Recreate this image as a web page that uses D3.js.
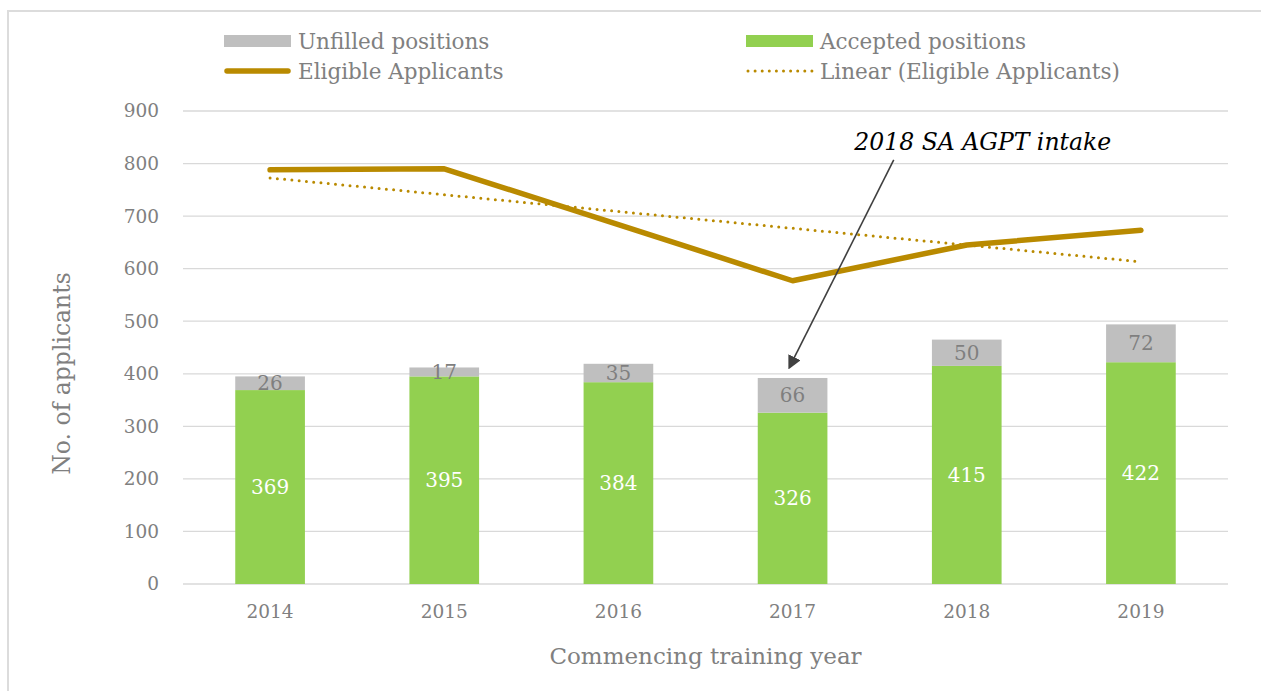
<!DOCTYPE html>
<html>
<head>
<meta charset="utf-8">
<script src="https://cdn.jsdelivr.net/npm/d3@7"></script>
<style>
  html, body { margin: 0; padding: 0; background: #fff; }
  svg text { font-family: "DejaVu Serif", "Liberation Serif", serif; }
</style>
</head>
<body>
<svg id="chart" width="1261" height="691"></svg>
<script>
const years = ["2014", "2015", "2016", "2017", "2018", "2019"];
const accepted = [369, 395, 384, 326, 415, 422];
const unfilled = [26, 17, 35, 66, 50, 72];
const eligible = [788, 790, 684, 577, 645, 673];
const yTicks = [0, 100, 200, 300, 400, 500, 600, 700, 800, 900];
const legendLabels = ["Unfilled positions", "Accepted positions", "Eligible Applicants", "Linear (Eligible Applicants)"];
const annotationText = "2018 SA AGPT intake";

const colGreen = "#92D050", colGray = "#BFBFBF", colGold = "#B98A00";
const textGray = "#808080", gridCol = "#D9D9D9";
const FONT = '"DejaVu Serif", serif';

const svg = d3.select("#chart");
const W = 1261, H = 691;
const m = { left: 183, right: 33, top: 111, bottom: 107 };

// outer frame
svg.append("path").attr("d", `M8,${H} V11 H${W}`).attr("fill", "none")
  .attr("stroke", "#DCDCDC").attr("stroke-width", 2);

const x = d3.scaleBand().domain(years).range([m.left, W - m.right]).paddingInner(0.6).paddingOuter(0.3);
const y = d3.scaleLinear().domain([0, 900]).range([H - m.bottom, m.top]);

// gridlines
svg.append("g").selectAll("line").data(yTicks).join("line")
  .attr("x1", m.left).attr("x2", W - m.right)
  .attr("y1", d => y(d)).attr("y2", d => y(d))
  .attr("stroke", gridCol).attr("stroke-width", 1.3);

// y axis labels
const yAxis = svg.append("g").attr("transform", `translate(${m.left},0)`)
  .call(d3.axisLeft(y).tickValues(yTicks).tickSize(0).tickPadding(24));
yAxis.select(".domain").remove();
yAxis.selectAll("text").attr("fill", textGray).attr("font-size", 18.5)
  .style("font-family", FONT);

// x axis labels
const xAxis = svg.append("g").attr("transform", `translate(0,${y(0)})`)
  .call(d3.axisBottom(x).tickSize(0).tickPadding(21));
xAxis.select(".domain").remove();
xAxis.selectAll("text").attr("fill", textGray).attr("font-size", 18.5)
  .style("font-family", FONT);

// stacked data
const data = years.map((yr, i) => ({ year: yr, acc: accepted[i], unf: unfilled[i] }));

// bars
const bars = svg.append("g");
bars.selectAll("rect.acc").data(data).join("rect").attr("class", "acc")
  .attr("x", d => x(d.year)).attr("width", x.bandwidth())
  .attr("y", d => y(d.acc)).attr("height", d => y(0) - y(d.acc))
  .attr("fill", colGreen);
bars.selectAll("rect.unf").data(data).join("rect").attr("class", "unf")
  .attr("x", d => x(d.year)).attr("width", x.bandwidth())
  .attr("y", d => y(d.acc + d.unf)).attr("height", d => y(d.acc) - y(d.acc + d.unf))
  .attr("fill", colGray);

// bar labels
bars.selectAll("text.acc").data(data).join("text").attr("class", "acc")
  .attr("x", d => x(d.year) + x.bandwidth() / 2).attr("y", d => y(d.acc / 2))
  .attr("text-anchor", "middle").attr("dominant-baseline", "central")
  .attr("fill", "#fff").attr("font-size", 20).text(d => d.acc);
bars.selectAll("text.unf").data(data).join("text").attr("class", "unf")
  .attr("x", d => x(d.year) + x.bandwidth() / 2).attr("y", d => y(d.acc + d.unf / 2))
  .attr("text-anchor", "middle").attr("dominant-baseline", "central")
  .attr("fill", "#7F7F7F").attr("font-size", 20).text(d => d.unf);

// trend line (least squares on eligible)
const n = eligible.length;
const xs = eligible.map((_, i) => i + 1);
const mx = d3.mean(xs), my = d3.mean(eligible);
const slope = d3.sum(xs.map((xi, i) => (xi - mx) * (eligible[i] - my))) / d3.sum(xs.map(xi => (xi - mx) ** 2));
const intercept = my - slope * mx;
const cx = yr => x(yr) + x.bandwidth() / 2;

const trend = [years[0], years[n - 1]].map(yr => ({ yr, v: intercept + slope * (years.indexOf(yr) + 1) }));
svg.append("path").datum(trend)
  .attr("d", d3.line().x(d => cx(d.yr)).y(d => y(d.v)))
  .attr("fill", "none").attr("stroke", colGold).attr("stroke-width", 3)
  .attr("stroke-dasharray", "0 7.3").attr("stroke-linecap", "round");

// eligible line
svg.append("path").datum(years.map((yr, i) => ({ yr, v: eligible[i] })))
  .attr("d", d3.line().x(d => cx(d.yr)).y(d => y(d.v)))
  .attr("fill", "none").attr("stroke", colGold).attr("stroke-width", 5.5)
  .attr("stroke-linecap", "round").attr("stroke-linejoin", "round");

// annotation
const defs = svg.append("defs");
defs.append("marker").attr("id", "arrow").attr("viewBox", "0 0 10 10")
  .attr("refX", 8).attr("refY", 5).attr("markerWidth", 8.5).attr("markerHeight", 8.5)
  .attr("markerUnits", "strokeWidth").attr("orient", "auto")
  .append("path").attr("d", "M0,0 L10,5 L0,10 z").attr("fill", "#404040");
const tipX = cx("2017") - 3, tipY = y(accepted[3] + unfilled[3]) - 11;
const startX = cx("2018") - 73, startY = y(807);
svg.append("line").attr("x1", startX).attr("y1", startY).attr("x2", tipX).attr("y2", tipY)
  .attr("stroke", "#404040").attr("stroke-width", 1.6).attr("marker-end", "url(#arrow)");
svg.append("text").attr("x", cx("2018") + 16).attr("y", y(807) - 10)
  .attr("text-anchor", "middle").attr("font-style", "italic").attr("font-size", 23.5)
  .attr("fill", "#000").text(annotationText);

// legend
const leg = svg.append("g");
const legItems = [
  { x: 224, y: 41, type: "rect", color: colGray, label: legendLabels[0] },
  { x: 746, y: 41, type: "rect", color: colGreen, label: legendLabels[1] },
  { x: 224, y: 71, type: "line", color: colGold, label: legendLabels[2] },
  { x: 746, y: 71, type: "dot", color: colGold, label: legendLabels[3] }
];
legItems.forEach(it => {
  if (it.type === "rect") {
    leg.append("rect").attr("x", it.x).attr("y", it.y - 6).attr("width", 67).attr("height", 12).attr("fill", it.color);
  } else if (it.type === "line") {
    leg.append("line").attr("x1", it.x + 3).attr("x2", it.x + 64).attr("y1", it.y).attr("y2", it.y)
      .attr("stroke", it.color).attr("stroke-width", 5.5).attr("stroke-linecap", "round");
  } else {
    leg.append("line").attr("x1", it.x + 2).attr("x2", it.x + 66).attr("y1", it.y).attr("y2", it.y)
      .attr("stroke", it.color).attr("stroke-width", 3).attr("stroke-dasharray", "0 7.1").attr("stroke-linecap", "round");
  }
  leg.append("text").attr("x", it.x + 74).attr("y", it.y).attr("dominant-baseline", "central")
    .attr("fill", textGray).attr("font-size", 21.5).text(it.label);
});

// axis titles
svg.append("text").attr("transform", `translate(62,${(y(0) + y(900)) / 2 + 26}) rotate(-90)`)
  .attr("text-anchor", "middle").attr("dominant-baseline", "central")
  .attr("fill", textGray).attr("font-size", 23.5).text("No. of applicants");
svg.append("text").attr("x", (m.left + W - m.right) / 2).attr("y", 656)
  .attr("text-anchor", "middle").attr("dominant-baseline", "central")
  .attr("fill", textGray).attr("font-size", 23).text("Commencing training year");
</script>
</body>
</html>
